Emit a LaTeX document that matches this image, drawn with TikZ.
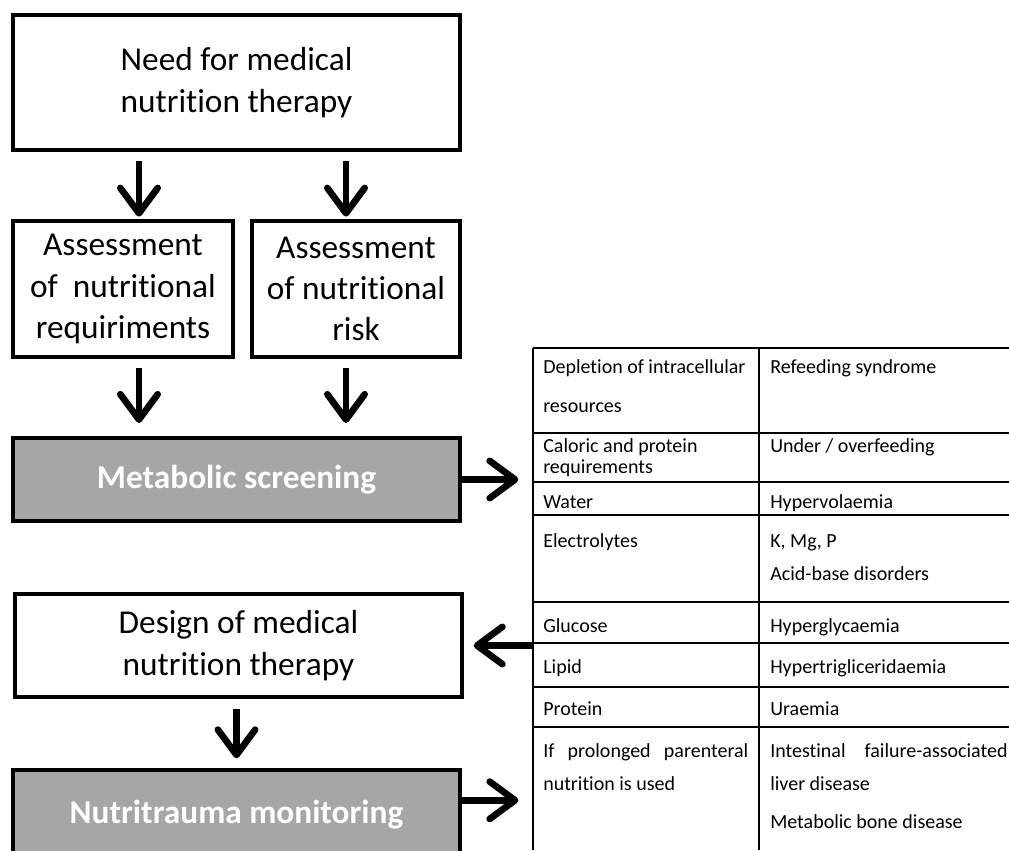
\documentclass[tikz,border=0pt]{standalone}
\usepackage{fontspec}
\setmainfont{Carlito}[Ligatures=NoCommon, Contextuals=NoAlternate, RawFeature=-dlig]
\usetikzlibrary{arrows.meta}
\definecolor{boxgray}{RGB}{166,166,166}
\tikzset{
  box/.style={draw, line width=2.6pt, inner sep=0pt, align=center, font=\fontsize{25}{31}\selectfont},
  greybox/.style={box, fill=boxgray, text=white, font=\fontsize{25}{31}\selectfont\bfseries},
  arr/.style={line width=5pt, -{Straight Barb[round, length=19pt, width=28pt]}},
  cell/.style={anchor=base west, inner sep=0pt, font=\fontsize{15}{18}\selectfont},
  tabline/.style={line width=0.9pt}
}
\begin{document}
\begin{tikzpicture}[x=0.75pt, y=-0.75pt]
      \useasboundingbox (0,0) rectangle (1009,850);
      \clip (0,0) rectangle (1009,850);
      \node[box, minimum width=335.25pt, minimum height=101.25pt] (need) at (236.5,82.5) {Need for medical\\nutrition therapy};
      \node[box, minimum width=165pt, minimum height=102pt] (req) at (123,289) {Assessment\\of\ \ nutritional\\requiriments};
      \node[box, minimum width=156pt, minimum height=102pt] (risk) at (356,289) {Assessment\\of nutritional\\risk};
      \node[greybox, minimum width=335.25pt, minimum height=62.25pt] (screen) at (236.5,479.5) {Metabolic screening};
      \node[box, minimum width=335.25pt, minimum height=77.25pt] (design) at (238.5,645.5) {Design of medical\\nutrition therapy};
      \node[greybox, minimum width=335.25pt, minimum height=67.5pt] (monitor) at (236.5,815) {Nutritrauma monitoring};
      \coordinate (colA) at (139,0);
      \coordinate (colB) at (346,0);
      \coordinate (tabL) at (533,348);
      \coordinate (mon) at ([yshift=-24pt]monitor.north east);
      \draw[tabline] (533,348) -- (533,850);
      \draw[tabline] (759,348) -- (759,850);
      \foreach \y in {348,433,482,515,602,643,687,727}
        \draw[tabline] (533,\y) -- (1009,\y);
      \draw[arr, shorten <=7pt, shorten >=2pt] (need.south -| colA) -- (req.north -| colA);
      \draw[arr, shorten <=7pt, shorten >=2pt] (need.south -| colB) -- (risk.north -| colB);
      \draw[arr, shorten <=7pt, shorten >=10pt] (req.south -| colA) -- (screen.north -| colA);
      \draw[arr, shorten <=7pt, shorten >=10pt] (risk.south -| colB) -- (screen.north -| colB);
      \draw[arr, shorten >=11pt] (screen.east) -- (screen.east -| tabL);
      \draw[arr, shorten >=7.5pt] (design.east -| tabL) -- (design.east);
      \draw[arr, shorten <=8pt, shorten >=7.5pt] (design.south -| monitor.north) -- (monitor.north);
      \draw[arr, shorten >=11pt] (mon) -- (mon -| tabL);
      \node[cell] (d1) at (543,373) {Depletion of intracellular};
      \node[cell] (d2) at (543,412) {resources};
      \node[cell] (r1) at (770,373) {Refeeding syndrome};
      \node[cell] (c1) at (543,452) {Caloric and protein};
      \node[cell] (c2) at (543,473) {requirements};
      \node[cell] (u1) at (770,452) {Under / overfeeding};
      \node[cell] (w1) at (543,508) {Water};
      \node[cell] (h1) at (770,508) {Hypervolaemia};
      \node[cell] (e1) at (543,547) {Electrolytes};
      \node[cell] (k1) at (770,547) {K, Mg, P};
      \node[cell] (k2) at (770,580) {Acid-base disorders};
      \node[cell] (g1) at (543,632) {Glucose};
      \node[cell] (g2) at (770,632) {Hyperglycaemia};
      \node[cell] (l1) at (543,673) {Lipid};
      \node[cell] (l2) at (770,673) {Hypertrigliceridaemia};
      \node[cell] (p1) at (543,715) {Protein};
      \node[cell] (p2) at (770,715) {Uraemia};
      \node[cell] (pn1) at (543,757) {\makebox[153.75pt][s]{If prolonged parenteral}};
      \node[cell] (pn2) at (543,790) {nutrition is used};
      \node[cell] (ld1) at (770,757) {\makebox[178pt][s]{Intestinal failure-associated}};
      \node[cell] (ld2) at (770,790) {liver disease};
      \node[cell] (ld3) at (770,828) {Metabolic bone disease};
    \end{tikzpicture}
\end{document}
